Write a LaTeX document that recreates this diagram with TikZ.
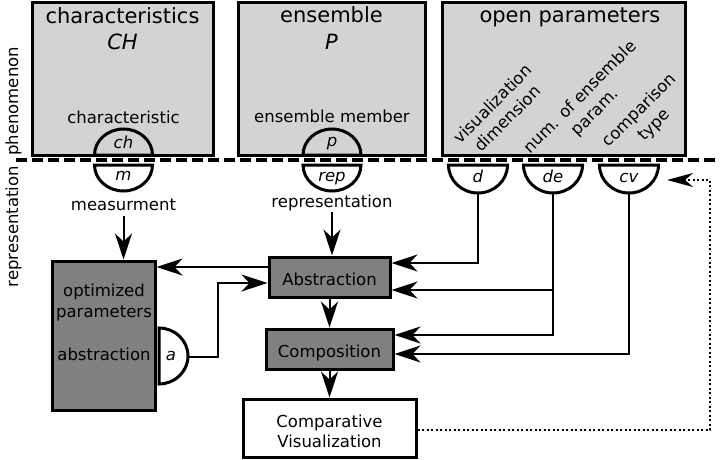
\documentclass[tikz,border=0pt]{standalone}
\usepackage{fontspec}
\setmainfont{DejaVu Sans}
\usetikzlibrary{arrows.meta}
\definecolor{paleGrey}{RGB}{211,211,211}
\definecolor{midGrey}{RGB}{128,128,128}

\begin{document}
\begin{tikzpicture}[x=1pt,y=-1pt,
  bigtxt/.style={font=\fontsize{21}{25}\selectfont, inner sep=0pt},
  txt/.style={font=\fontsize{16.5}{21}\selectfont, inner sep=0pt},
  slanted/.style={txt, rotate=45, align=center, font=\fontsize{16.5}{21}\selectfont},
  domainbox/.style={draw, line width=3pt, fill=paleGrey, inner sep=0pt},
  stagebox/.style={draw, line width=3pt, fill=midGrey, inner sep=0pt,
    font=\fontsize{16.5}{21}\selectfont, text height=16pt, text depth=0pt},
  plainbox/.style={draw, line width=3pt, fill=white, inner sep=0pt,
    font=\fontsize{16.5}{20}\selectfont, align=center},
  halfdisc/.style={draw, line width=3pt},
  flow/.style={line width=2pt, -{Stealth[length=26pt, width=17pt, inset=8pt]}},
  feedback/.style={line width=2pt, dash pattern=on 2pt off 2.5pt,
    -{Stealth[length=26pt, width=14pt, inset=8pt]}},
  divider/.style={line width=4pt, dash pattern=on 11pt off 5pt},
]
\useasboundingbox (0,0) rectangle (720,460);

% ---- phenomenon side: the three domains ----
\node[domainbox, minimum width=181pt, minimum height=152pt] (chbox) at (122.5,79) {};
\node[domainbox, minimum width=187pt, minimum height=152pt] (pbox) at (331.5,79) {};
\node[domainbox, minimum width=243pt, minimum height=152pt] (opbox) at (563.5,79) {};

\node[bigtxt, anchor=base] (chtitle) at (122.5,24) {characteristics};
\node[bigtxt, anchor=base] (chsym) at (122.5,50) {\textit{CH}};
\node[bigtxt, anchor=base] (ptitle) at (331.5,23) {ensemble};
\node[bigtxt, anchor=base] (psym) at (331.5,50) {\textit{P}};
\node[bigtxt, anchor=base] (optitle) at (570,23) {open parameters};

\node[txt, anchor=base] (chLbl) at (123.5,123) {characteristic};
\node[txt, anchor=base] (pLbl) at (332,122) {ensemble member};

\node[slanted] (vdim) at (500,111) {visualization\\dimension};
\node[slanted] (nparam) at (588,105) {num. of ensemble\\param.};
\node[slanted] (ctype) at (647,118) {comparison\\type};

% upper half discs sitting on the domain boxes
\draw[halfdisc, fill=paleGrey] (94.5,155) arc[start angle=180, end angle=360, x radius=29, y radius=26] -- cycle;
\draw[halfdisc, fill=paleGrey] (303,155) arc[start angle=180, end angle=360, x radius=29, y radius=26] -- cycle;
\node[txt, anchor=base] (ch) at (123.5,148) {\textit{ch}};
\node[txt, anchor=base] (p) at (332,146) {\textit{p}};

% ---- boundary between phenomenon and representation ----
\draw[divider] (16,160) -- (720,160);
\node[txt, rotate=90, anchor=mid west] (phen) at (15.5,156) {phenomenon};
\node[txt, rotate=90, anchor=mid east] (repr) at (15.5,166) {representation};

% lower half discs hanging below the boundary
\draw[halfdisc, fill=white] (94.5,165) arc[start angle=180, end angle=0, x radius=29, y radius=26] -- cycle;
\draw[halfdisc, fill=white] (303,165) arc[start angle=180, end angle=0, x radius=29, y radius=26] -- cycle;
\draw[halfdisc, fill=white] (448.5,165) arc[start angle=180, end angle=0, x radius=29.5, y radius=28] -- cycle;
\draw[halfdisc, fill=white] (523.5,165) arc[start angle=180, end angle=0, x radius=29.5, y radius=28] -- cycle;
\draw[halfdisc, fill=white] (599.5,165) arc[start angle=180, end angle=0, x radius=29.5, y radius=28] -- cycle;
\node[txt, anchor=base] (m) at (123.5,180) {\textit{m}};
\node[txt, anchor=base] (rep) at (332,181) {\textit{rep}};
\node[txt, anchor=base] (d) at (478,182) {\textit{d}};
\node[txt, anchor=base] (de) at (553,182) {\textit{de}};
\node[txt, anchor=base] (cv) at (629,182) {\textit{cv}};
\coordinate (d-s) at (478,193);
\coordinate (de-s) at (553,193);
\coordinate (cv-s) at (629,193);

\node[txt, anchor=base, outer sep=6pt] (measLbl) at (123.5,210) {measurment};
\node[txt, anchor=base, outer sep=2pt] (repLbl) at (332,207) {representation};

% ---- representation side: pipeline ----
\node[stagebox, minimum width=103pt, minimum height=149pt] (opt) at (103.5,335.5) {};
\node[txt, anchor=base] (optL1) at (104,296) {optimized};
\node[txt, anchor=base] (optL2) at (104,317) {parameters};
\node[txt, anchor=base] (optL3) at (104,360) {abstraction};
\draw[halfdisc, fill=white] (159,384) arc[start angle=90, end angle=-90, x radius=29, y radius=28] -- cycle;
\node[txt, anchor=base] (a) at (171,360) {\textit{a}};
\coordinate (a-e) at (188,357);

\node[stagebox, minimum width=121pt, minimum height=40pt] (abs) at (329.5,277) {Abstraction};
\node[stagebox, minimum width=127pt, minimum height=40pt] (comp) at (329.5,349) {Composition};
\node[plainbox, minimum width=173pt, minimum height=58pt] (cvbox) at (329.5,428) {};
\node[txt, anchor=base] (cvL1) at (329.5,427) {Comparative};
\node[txt, anchor=base] (cvL2) at (329.5,447) {Visualization};
\coordinate (fbEnd) at (667,180);

% ---- connectors ----
\draw[flow] (measLbl.south) -- (measLbl.south |- opt.north);
\draw[flow] (repLbl.south) -- (repLbl.south |- abs.north);
\draw[flow] (abs.west |- 0,267) -- (opt.east |- 0,267);
\draw[flow] (a-e) -- ++(30,0) |- (abs.west |- 0,283);
\draw[flow] (abs) -- (comp);
\draw[flow] (comp) -- (cvbox);
\draw[flow] (d-s) |- (abs.east |- 0,263);
\draw[flow] (de-s |- 0,290) -- (abs.east |- 0,290);
\draw[flow] (de-s) |- (comp.east |- 0,335);
\draw[flow] (cv-s) |- (comp.east |- 0,354);
\draw[feedback] (cvbox.east |- 0,430) -| (710,180) -- (fbEnd);
\end{tikzpicture}
\end{document}
